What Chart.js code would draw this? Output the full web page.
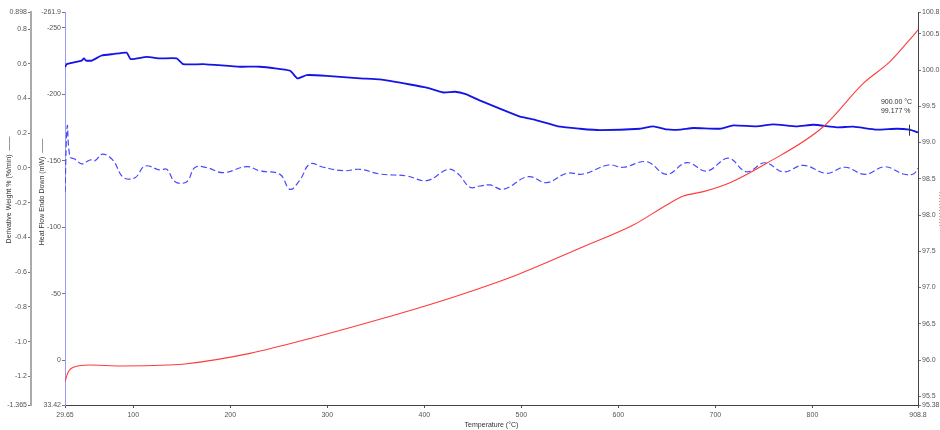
<!DOCTYPE html>
<html><head><meta charset="utf-8">
<script src="https://cdn.jsdelivr.net/npm/chart.js@4"></script>
<style>html,body{margin:0;padding:0;background:#fff;overflow:hidden}</style>
</head><body>
<canvas id="c" width="940" height="430"></canvas>
<script>
// ---- data ----
const tempW = [29.65,31.4,46.9,49.2,51.3,57.2,67.5,79.4,93.2,97.4,113.9,127.6,144.8,151.6,172.2,210.0,230.6,261.5,269.1,278.8,299.4,333.7,354.3,385.3,402.4,419.5,431.6,441.9,460.8,477.2,498.6,512.3,539.8,560.4,581.0,622.3,635.9,649.8,663.5,677.2,704.7,718.4,742.5,759.6,783.7,800.9,825.0,842.1,866.2,886.8,900.0,908.8];
const weightW = [100.04,100.08,100.13,100.16,100.13,100.13,100.20,100.22,100.24,100.15,100.18,100.16,100.16,100.08,100.08,100.045,100.045,99.99,99.885,99.93,99.92,99.885,99.87,99.80,99.756,99.69,99.70,99.67,99.56,99.47,99.356,99.32,99.218,99.19,99.17,99.19,99.223,99.18,99.177,99.20,99.19,99.237,99.223,99.25,99.223,99.245,99.21,99.218,99.177,99.19,99.177,99.14];

const tempD = [29.65,32.0,34.8,40.0,46.9,55.4,60.6,68.5,79.4,89.7,101.8,112.1,127.6,134.5,143.0,155.1,163.6,175.7,192.8,216.9,230.6,251.2,261.5,271.8,282.1,295.9,316.5,333.7,354.3,381.8,402.4,424.7,435.0,447.0,457.3,467.7,481.4,507.1,526.0,546.7,563.8,589.6,605.0,629.2,649.8,670.4,691.0,713.3,732.2,751.1,770.0,790.6,814.7,833.6,854.2,874.8,893.6,903.9,908.8];
const derivD = [-0.14,0.242,0.065,0.05,0.023,0.046,0.042,0.08,0.042,-0.054,-0.056,0.011,-0.012,-0.008,-0.079,-0.079,0.002,0.002,-0.027,0.008,-0.017,-0.037,-0.123,-0.069,0.023,0.004,-0.016,-0.008,-0.035,-0.046,-0.073,-0.008,-0.035,-0.111,-0.104,-0.098,-0.123,-0.050,-0.085,-0.031,-0.035,0.017,0.004,0.036,-0.037,0.031,-0.018,0.056,-0.022,0.03,-0.023,0.015,-0.031,0.004,-0.037,0.007,-0.035,-0.035,-0.002];

const tempH = [29.65,33.05,39.96,53.7,88.1,136.1,153.3,220.3,289.0,357.7,426.4,495.2,563.8,615.3,649.8,666.9,687.5,715.0,752.8,811.2,852.4,879.9,900.0,908.8];
const heatH = [15.9,8.4,4.6,3.4,4.1,3.4,2.6,-5.4,-17.9,-31.7,-46.8,-64.3,-85.5,-101.8,-116.9,-123.6,-126.9,-133.6,-148.2,-175.7,-208.3,-224.6,-240.9,-248.4];

const xTicks = [29.65,100,200,300,400,500,600,700,800,908.8];
const xTickLabels = ['29.65','100','200','300','400','500','600','700','800','908.8'];
const derivTicks = [0.898,0.8,0.6,0.4,0.2,0.0,-0.2,-0.4,-0.6,-0.8,-1.0,-1.2,-1.365];
const derivTickLabels = ['0.898','0.8','0.6','0.4','0.2','0.0','-0.2','-0.4','-0.6','-0.8','-1.0','-1.2','-1.365'];
const heatTicks = [-261.9,-250,-200,-150,-100,-50,0,33.42];
const heatTickLabels = ['-261.9','-250','-200','-150','-100','-50','0','33.42'];
const weightTicks = [100.8,100.5,100.0,99.5,99.0,98.5,98.0,97.5,97.0,96.5,96.0,95.5,95.38];
const weightTickLabels = ['100.8','100.5','100.0','99.5','99.0','98.5','98.0','97.5','97.0','96.5','96.0','95.5','95.38'];

const xTitle = 'Temperature (°C)';
const derivTitle = 'Derivative Weight % (%/min)  ——';
const heatTitle = 'Heat Flow Endo Down (mW)  ——';
const cursorT = 900.00;
const cursorW = 99.177;

// ---- chart ----
const FONT = '"Liberation Sans", Arial, sans-serif';
const pts = (xs, ys) => xs.map((x, i) => ({x, y: ys[i]}));
const setTicks = vals => s => { s.ticks = vals.map(v => ({value: v})); };
const tickFont = {family: FONT, size: 7};

function yAxis(pos, weight, min, max, vals, labels, width, borderColor, borderWidth, extra) {
  return Object.assign({
    type: 'linear', position: pos, weight, min, max,
    afterBuildTicks: setTicks(vals),
    afterFit: s => { s.width = width; },
    border: {display: true, color: borderColor, width: borderWidth},
    grid: {display: true, drawOnChartArea: false, drawTicks: true, tickLength: 3, color: '#777'},
    ticks: {font: tickFont, color: '#555', padding: 1, autoSkip: false,
            callback: (v, i) => labels[i]}
  }, extra || {});
}

const annot = {
  id: 'annot',
  afterDraw(chart) {
    const ctx = chart.ctx, xs = chart.scales.x, yw = chart.scales.yW, ca = chart.chartArea;
    ctx.save();
    ctx.font = '7px ' + FONT;
    ctx.fillStyle = '#333';
    ctx.textBaseline = 'middle';
    ctx.textAlign = 'center';
    ctx.fillText(xTitle, (ca.left + ca.right) / 2, 425);
    const rot = (t, x, y) => { ctx.save(); ctx.translate(x, y); ctx.rotate(-Math.PI / 2); ctx.fillText(t, 0, 0); ctx.restore(); };
    rot(derivTitle, 9, 190);
    rot(heatTitle, 42, 192);
    // cursor marker and readout
    const cx = xs.getPixelForValue(cursorT), cy = yw.getPixelForValue(cursorW);
    ctx.strokeStyle = '#333'; ctx.lineWidth = 1;
    ctx.beginPath(); ctx.moveTo(Math.round(cx) + 0.5, cy - 5); ctx.lineTo(Math.round(cx) + 0.5, cy + 6); ctx.stroke();
    ctx.textAlign = 'left';
    ctx.fillText(cursorT.toFixed(2) + ' °C', cx - 28.5, cy - 27.5);
    ctx.fillText(cursorW.toFixed(3) + ' %', cx - 28.5, cy - 18.5);
    // visible edge of the right-axis title legend marker (dotted)
    ctx.strokeStyle = '#c0a080'; ctx.setLineDash([1, 2]);
    ctx.beginPath(); ctx.moveTo(939.5, 192); ctx.lineTo(939.5, 227); ctx.stroke();
    ctx.restore();
  }
};

new Chart(document.getElementById('c'), {
  type: 'line',
  data: {
    datasets: [
      {data: pts(tempH, heatH), yAxisID: 'yH', borderColor: '#ff3b3b', borderWidth: 1.1,
       pointRadius: 0, cubicInterpolationMode: 'monotone', fill: false},
      {data: pts(tempD, derivD), yAxisID: 'yD', borderColor: '#4848ff', borderWidth: 1.2,
       borderDash: [6, 3], pointRadius: 0, tension: 0.4, fill: false},
      {data: pts(tempW, weightW), yAxisID: 'yW', borderColor: '#1414e6', borderWidth: 1.8,
       pointRadius: 0, tension: 0.15, fill: false}
    ]
  },
  options: {
    responsive: false, animation: false, events: [],
    layout: {padding: {top: 12, left: 0, right: 0, bottom: 0}},
    plugins: {legend: {display: false}, tooltip: {enabled: false}},
    scales: {
      x: {
        type: 'linear', min: 29.65, max: 908.8,
        afterBuildTicks: setTicks(xTicks),
        afterFit: s => { s.height = 25; },
        border: {display: true, color: '#444', width: 1},
        grid: {display: true, drawOnChartArea: false, drawTicks: true, tickLength: 3, color: '#555'},
        ticks: {font: tickFont, color: '#555', padding: 3, maxRotation: 0, autoSkip: false,
                callback: (v, i) => xTickLabels[i]}
      },
      yD: yAxis('left', 2, -1.365, 0.898, derivTicks, derivTickLabels, 31, '#aaaaaa', 2),
      yH: yAxis('left', 1, -261.9, 33.42, heatTicks, heatTickLabels, 34, '#9a9af2', 1, {reverse: true}),
      yW: yAxis('right', 1, 95.38, 100.8, weightTicks, weightTickLabels, 22, '#444', 1)
    }
  },
  plugins: [annot]
});
</script>
</body></html>
